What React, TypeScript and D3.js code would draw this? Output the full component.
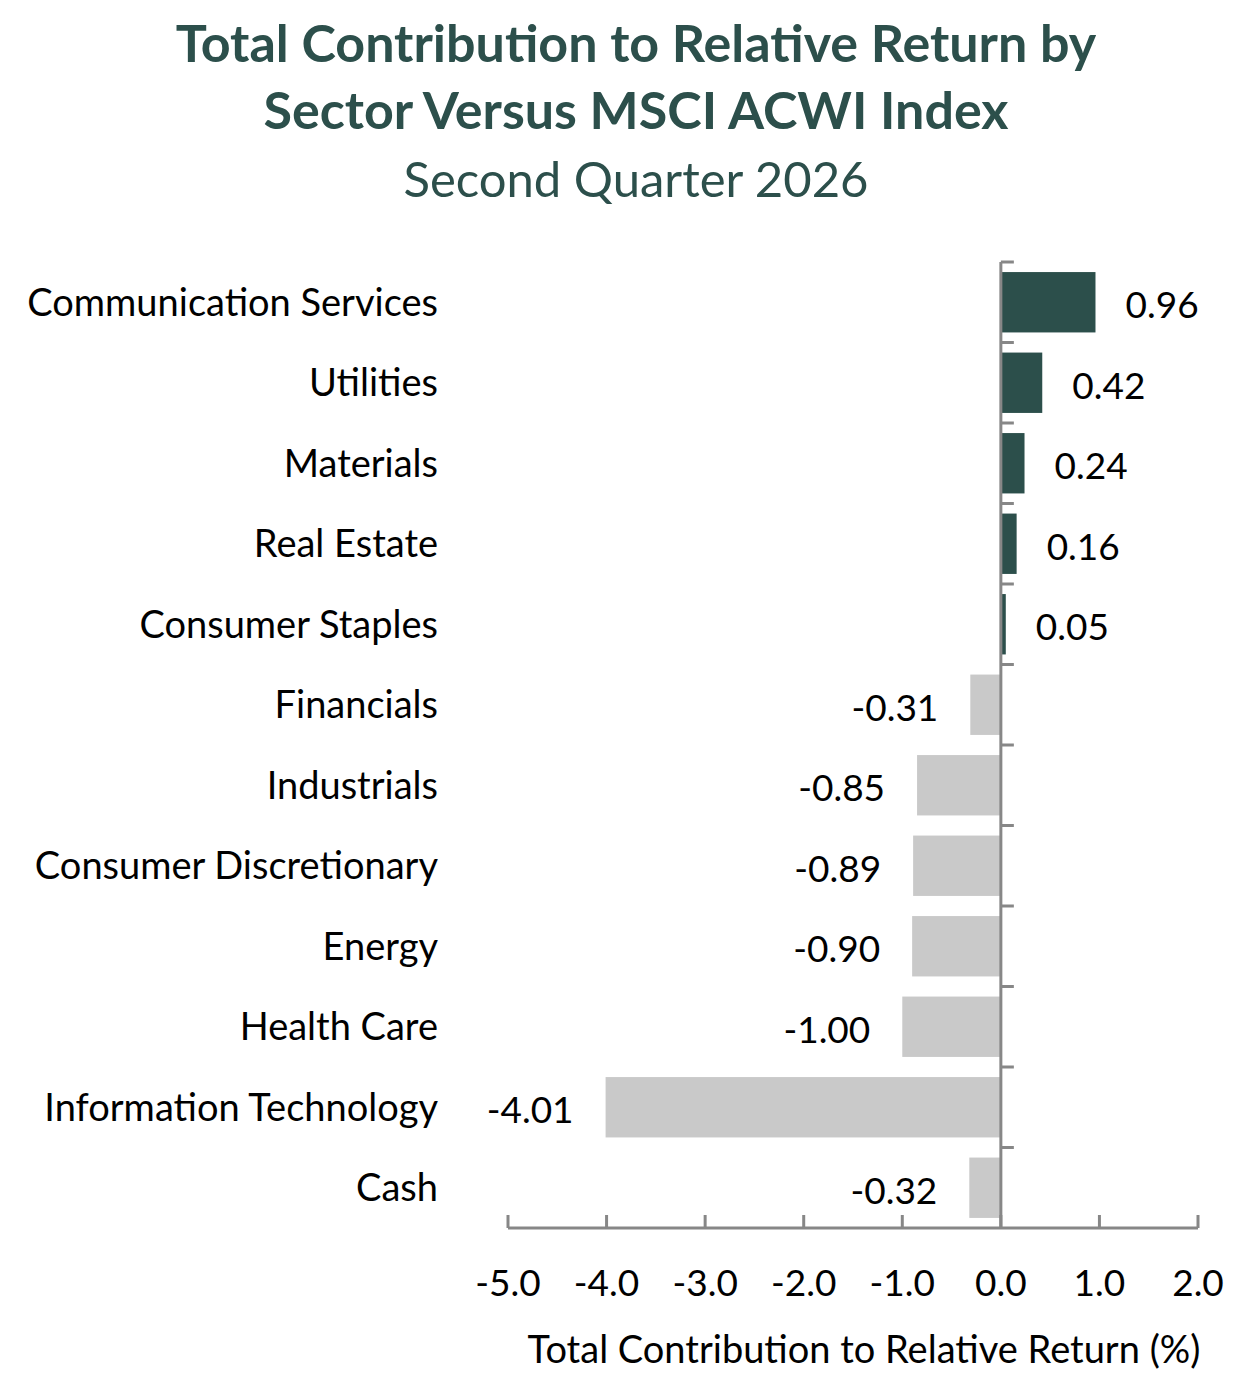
import React from "react";
import * as d3 from "d3";

const sectors = [
  "Communication Services",
  "Utilities",
  "Materials",
  "Real Estate",
  "Consumer Staples",
  "Financials",
  "Industrials",
  "Consumer Discretionary",
  "Energy",
  "Health Care",
  "Information Technology",
  "Cash",
];
const contributions = [0.96, 0.42, 0.24, 0.16, 0.05, -0.31, -0.85, -0.89, -0.9, -1.0, -4.01, -0.32];
const xTicks = [-5, -4, -3, -2, -1, 0, 1, 2];

const titleLines = ["Total Contribution to Relative Return by", "Sector Versus MSCI ACWI Index"];
const subtitle = "Second Quarter 2026";
const xTitle = "Total Contribution to Relative Return (%)";

const W = 1240;
const H = 1384;
const FONT = "Lato, 'Open Sans', sans-serif";
const TEAL = "#2c4f4b";
const GREY = "#c9c9c9";
const AXIS = "#878787";

export default function App() {
  const x = d3.scaleLinear().domain([-5, 2]).range([508, 1198]);
  const y = d3.scaleBand<string>().domain(sectors).range([262, 1228]).paddingInner(0.25).paddingOuter(0.125);
  const bandStep = y.step();
  const boundaries = d3.range(sectors.length).map((i) => 262 + i * bandStep);
  const x0 = x(0);

  return (
    <svg width={W} height={H} style={{ position: "absolute", left: 0, top: 0, background: "#fff" }} fontFamily={FONT}>
      {titleLines.map((t, i) => (
        <text key={t} x={636} y={62 + i * 67} textAnchor="middle" fontSize={52} fontWeight={700} fill={TEAL}>
          {t}
        </text>
      ))}
      <text x={636} y={197} textAnchor="middle" fontSize={49} fill={TEAL}>
        {subtitle}
      </text>

      {sectors.map((s, i) => {
        const v = contributions[i];
        const by = y(s)!;
        const bx = Math.min(x(v), x0);
        const bw = Math.abs(x(v) - x0);
        const cy = by + y.bandwidth() / 2;
        return (
          <g key={s}>
            <rect x={bx} y={by} width={bw} height={y.bandwidth()} fill={v >= 0 ? TEAL : GREY} />
            <text x={438} y={cy} dy="0.35em" textAnchor="end" fontSize={38} fill="#000">
              {s}
            </text>
            <text
              x={v >= 0 ? x(v) + 30 : x(v) - 32}
              y={cy + 3}
              dy="0.35em"
              textAnchor={v >= 0 ? "start" : "end"}
              fontSize={37}
              fill="#000"
            >
              {v.toFixed(2)}
            </text>
          </g>
        );
      })}

      {/* value axis */}
      <line x1={x(-5)} x2={x(2)} y1={1228} y2={1228} stroke={AXIS} strokeWidth={3} />
      {xTicks.map((t) => (
        <g key={t}>
          <line x1={x(t)} x2={x(t)} y1={1215} y2={1228} stroke={AXIS} strokeWidth={3} />
          <text x={x(t)} y={1283} dy="0.35em" textAnchor="middle" fontSize={37} fill="#000">
            {t.toFixed(1)}
          </text>
        </g>
      ))}
      <text x={864} y={1350} dy="0.35em" textAnchor="middle" fontSize={38} fill="#000">
        {xTitle}
      </text>

      {/* category axis at zero */}
      <line x1={x0} x2={x0} y1={262} y2={1228} stroke={AXIS} strokeWidth={3} />
      {boundaries.map((b, i) => (
        <line key={i} x1={x0} x2={x0 + 13} y1={b} y2={b} stroke={AXIS} strokeWidth={3} />
      ))}
    </svg>
  );
}
